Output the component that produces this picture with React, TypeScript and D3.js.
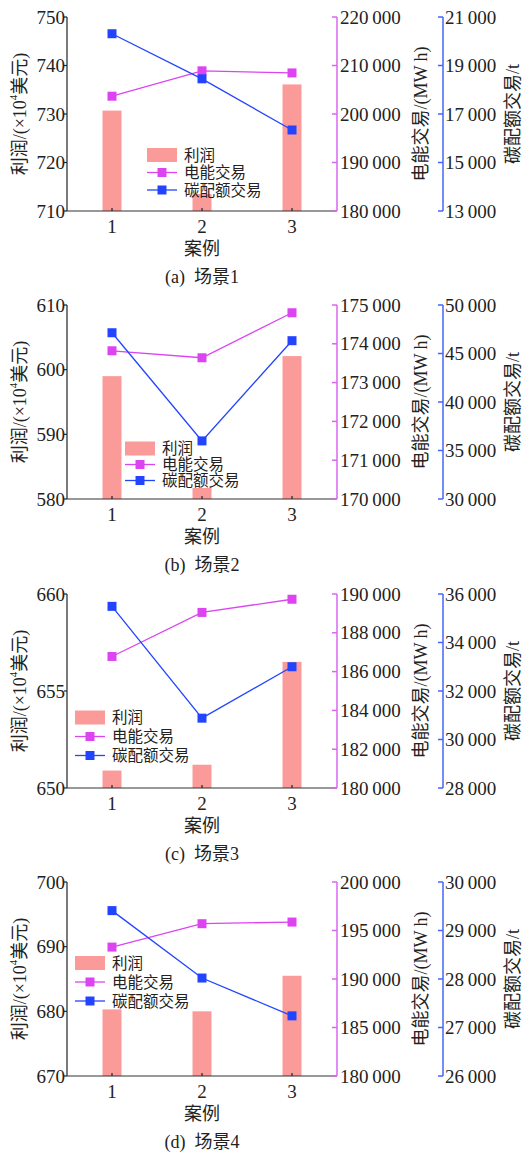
import React from 'react';
import * as d3 from 'd3';

// 案例
const cases = [1, 2, 3];
const letters = ['a', 'b', 'c', 'd'];
const scenes = ['场景1', '场景2', '场景3', '场景4'];

// 利润 (×10^4 美元)
const profit = [
  [730.7, 713.5, 736.1],
  [599.0, 581.7, 602.1],
  [650.9, 651.2, 656.5],
  [680.3, 680.0, 685.5],
];
// 电能交易 (MW h)
const power = [
  [203670, 208900, 208470],
  [173820, 173640, 174800],
  [186780, 189050, 189730],
  [193290, 195700, 195870],
];
// 碳配额交易 (t)
const carbon = [
  [20310, 18450, 16340],
  [47140, 35990, 46320],
  [35490, 30880, 33000],
  [29410, 28020, 27240],
];

const profitAxis = [[710, 750, 10], [580, 610, 10], [650, 660, 5], [670, 700, 10]];
const powerAxis = [[180000, 220000, 10000], [170000, 175000, 1000], [180000, 190000, 2000], [180000, 200000, 5000]];
const carbonAxis = [[13000, 21000, 2000], [30000, 50000, 5000], [28000, 36000, 2000], [26000, 30000, 1000]];

const legendPos = [
  { x: 147, y: 138, gap: 17.5 },
  { x: 125, y: 143.5, gap: 16 },
  { x: 75, y: 123.5, gap: 19 },
  { x: 75, y: 81, gap: 19 },
];

const W = 524;
const H = 1153;
const panelTops = [17, 305, 594, 882];
const plotH = 194;
const left = 67;
const right = 337;
const blueX = 443;

const barColor = '#fb9b99';
const pinkColor = '#dc44f2';
const pinkAxisColor = '#d966f0';
const blueColor = '#2244ff';
const blueAxisColor = '#4466f8';

const serif = '"Liberation Serif", "Times New Roman", serif';
const cjk = '"Liberation Serif", "Noto Sans CJK SC", serif';

const fmt = d3.formatLocale({ decimal: '.', thousands: '\u2009', grouping: [3], currency: ['', ''] }).format(',');

const range = (a: number, b: number, s: number) => d3.range(a, b + s / 2, s);

const Panel = ({ i }: { i: number }) => {
  const top = panelTops[i];
  const bottom = top + plotH;
  const x = d3.scaleLinear().domain([0.5, 3.5]).range([left, right]);
  const [pl0, pl1, ps] = profitAxis[i];
  const [el0, el1, es] = powerAxis[i];
  const [cl0, cl1, cs] = carbonAxis[i];
  const yP = d3.scaleLinear().domain([pl0, pl1]).range([bottom, top]);
  const yE = d3.scaleLinear().domain([el0, el1]).range([bottom, top]);
  const yC = d3.scaleLinear().domain([cl0, cl1]).range([bottom, top]);
  const barW = 19;
  const ms = 9;

  const lineE = d3.line<number>().x((_, j) => x(cases[j])).y((d) => yE(d));
  const lineC = d3.line<number>().x((_, j) => x(cases[j])).y((d) => yC(d));

  const lg = legendPos[i];
  const cy = (top + bottom) / 2;

  return (
    <g>
      {/* bars */}
      {profit[i].map((v, j) => (
        <rect key={j} x={x(cases[j]) - barW / 2} y={yP(v)} width={barW} height={bottom - yP(v)} fill={barColor} />
      ))}

      {/* left axis */}
      <line x1={left} x2={left} y1={top} y2={bottom} stroke="#222" strokeWidth={1.2} />
      {range(pl0, pl1, ps).map((t) => (
        <g key={t}>
          <line x1={left - 3} x2={left} y1={yP(t)} y2={yP(t)} stroke="#222" strokeWidth={1.2} />
          <text x={left - 2} y={yP(t)} textAnchor="end" dominantBaseline="central" fontSize={19} fontFamily={serif} fill="#222">
            {t}
          </text>
        </g>
      ))}

      {/* bottom axis */}
      <line x1={left} x2={right} y1={bottom} y2={bottom} stroke="#333" strokeWidth={1.2} />
      {cases.map((c) => (
        <g key={c}>
          <line x1={x(c)} x2={x(c)} y1={bottom} y2={bottom - 3} stroke="#222" strokeWidth={1.2} />
          <text x={x(c)} y={bottom + 15} textAnchor="middle" dominantBaseline="central" fontSize={19} fontFamily={serif} fill="#222">
            {c}
          </text>
        </g>
      ))}
      <text x={(left + right) / 2} y={bottom + 38} textAnchor="middle" dominantBaseline="central" fontSize={18} fontFamily={cjk} fill="#222">
        案例
      </text>
      <text x={(left + right) / 2} y={top + 260} textAnchor="middle" dominantBaseline="central" fontSize={18} fontFamily={cjk} fill="#222">
        ({letters[i]}){'\u00a0\u00a0'}{scenes[i]}
      </text>

      {/* pink axis */}
      <line x1={right} x2={right} y1={top} y2={bottom} stroke={pinkAxisColor} strokeWidth={1.5} />
      {range(el0, el1, es).map((t) => (
        <g key={t}>
          <line x1={right - 5} x2={right} y1={yE(t)} y2={yE(t)} stroke={pinkAxisColor} strokeWidth={1.5} />
          <text x={right + 3} y={yE(t)} textAnchor="start" dominantBaseline="central" fontSize={19} fontFamily={serif} fill="#222">
            {fmt(t)}
          </text>
        </g>
      ))}

      {/* blue axis */}
      <line x1={blueX} x2={blueX} y1={top} y2={bottom} stroke={blueAxisColor} strokeWidth={1.5} />
      {range(cl0, cl1, cs).map((t) => (
        <g key={t}>
          <line x1={blueX - 5} x2={blueX} y1={yC(t)} y2={yC(t)} stroke={blueAxisColor} strokeWidth={1.5} />
          <text x={blueX + 2} y={yC(t)} textAnchor="start" dominantBaseline="central" fontSize={19} fontFamily={serif} fill="#222">
            {fmt(t)}
          </text>
        </g>
      ))}

      {/* axis titles */}
      <text transform={`translate(20,${cy}) rotate(-90)`} textAnchor="middle" dominantBaseline="central" fontSize={18} fontFamily={cjk} fill="#222">
        利润/(×10<tspan fontSize={11} dy={-7}>4</tspan><tspan dy={7}>美元)</tspan>
      </text>
      <text transform={`translate(421,${cy}) rotate(-90)`} textAnchor="middle" dominantBaseline="central" fontSize={18} fontFamily={cjk} fill="#222">
        电能交易/(MW h)
      </text>
      <text transform={`translate(513,${cy}) rotate(-90)`} textAnchor="middle" dominantBaseline="central" fontSize={18} fontFamily={cjk} fill="#222">
        碳配额交易/t
      </text>

      {/* lines */}
      <path d={lineE(power[i]) ?? ''} fill="none" stroke={pinkColor} strokeWidth={1.3} />
      <path d={lineC(carbon[i]) ?? ''} fill="none" stroke={blueColor} strokeWidth={1.3} />
      {power[i].map((v, j) => (
        <rect key={j} x={x(cases[j]) - ms / 2} y={yE(v) - ms / 2} width={ms} height={ms} fill={pinkColor} />
      ))}
      {carbon[i].map((v, j) => (
        <rect key={j} x={x(cases[j]) - ms / 2} y={yC(v) - ms / 2} width={ms} height={ms} fill={blueColor} />
      ))}

      {/* legend */}
      <g transform={`translate(${lg.x},${top + lg.y})`}>
        <rect x={0} y={-7} width={30} height={14} fill={barColor} />
        <text x={37} y={0} dominantBaseline="central" fontSize={15.5} fontFamily={cjk} fill="#222">利润</text>
        <line x1={0} x2={30} y1={lg.gap} y2={lg.gap} stroke={pinkColor} strokeWidth={1.3} />
        <rect x={15 - ms / 2} y={lg.gap - ms / 2} width={ms} height={ms} fill={pinkColor} />
        <text x={37} y={lg.gap} dominantBaseline="central" fontSize={15.5} fontFamily={cjk} fill="#222">电能交易</text>
        <line x1={0} x2={30} y1={lg.gap * 2} y2={lg.gap * 2} stroke={blueColor} strokeWidth={1.3} />
        <rect x={15 - ms / 2} y={lg.gap * 2 - ms / 2} width={ms} height={ms} fill={blueColor} />
        <text x={37} y={lg.gap * 2} dominantBaseline="central" fontSize={15.5} fontFamily={cjk} fill="#222">碳配额交易</text>
      </g>
    </g>
  );
};

export default function App() {
  return (
    <svg width={W} height={H} style={{ position: 'absolute', left: 0, top: 0, background: '#fff' }}>
      {letters.map((_, i) => (
        <Panel key={i} i={i} />
      ))}
    </svg>
  );
}
